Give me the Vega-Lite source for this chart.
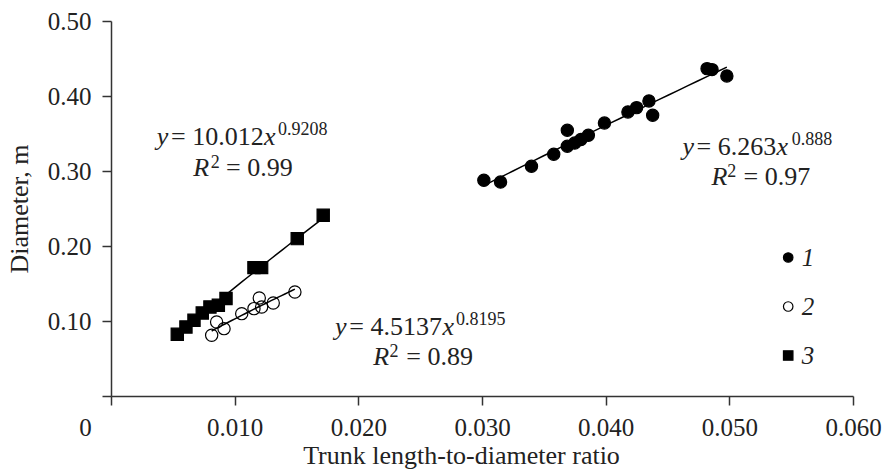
{
  "$schema": "https://vega.github.io/schema/vega-lite/v6.json",
  "width": 742,
  "height": 375,
  "autosize": {"type": "none"},
  "padding": {"left": 111, "top": 21, "right": 33, "bottom": 75},
  "background": "white",
  "config": {
    "view": {"stroke": null},
    "font": "Liberation Serif",
    "axis": {
      "grid": false,
      "domainColor": "#333",
      "tickColor": "#333",
      "labelColor": "#222",
      "titleColor": "#222",
      "domainWidth": 1.5,
      "tickWidth": 1.5,
      "tickSize": 9,
      "labelFont": "Liberation Serif",
      "titleFont": "Liberation Serif",
      "labelFontSize": 25,
      "titleFontSize": 26,
      "titleFontWeight": "normal",
      "labelFlush": false,
      "labelOverlap": false
    }
  },
  "datasets": {
    "pts": [
      {"r": 0.03015, "d": 0.2876, "s": "1"},
      {"r": 0.0315, "d": 0.2853, "s": "1"},
      {"r": 0.034, "d": 0.3063, "s": "1"},
      {"r": 0.0358, "d": 0.3223, "s": "1"},
      {"r": 0.0369, "d": 0.3543, "s": "1"},
      {"r": 0.0369, "d": 0.333, "s": "1"},
      {"r": 0.0375, "d": 0.3373, "s": "1"},
      {"r": 0.038, "d": 0.3419, "s": "1"},
      {"r": 0.0386, "d": 0.3476, "s": "1"},
      {"r": 0.0399, "d": 0.364, "s": "1"},
      {"r": 0.0418, "d": 0.3787, "s": "1"},
      {"r": 0.0425, "d": 0.3845, "s": "1"},
      {"r": 0.0435, "d": 0.3934, "s": "1"},
      {"r": 0.0438, "d": 0.3743, "s": "1"},
      {"r": 0.0482, "d": 0.4365, "s": "1"},
      {"r": 0.0486, "d": 0.4352, "s": "1"},
      {"r": 0.0498, "d": 0.4267, "s": "1"},
      {"r": 0.00814, "d": 0.081, "s": "2"},
      {"r": 0.00854, "d": 0.0987, "s": "2"},
      {"r": 0.00914, "d": 0.0898, "s": "2"},
      {"r": 0.01057, "d": 0.1098, "s": "2"},
      {"r": 0.01156, "d": 0.1165, "s": "2"},
      {"r": 0.01199, "d": 0.1307, "s": "2"},
      {"r": 0.01218, "d": 0.1187, "s": "2"},
      {"r": 0.01312, "d": 0.124, "s": "2"},
      {"r": 0.01487, "d": 0.1387, "s": "2"},
      {"r": 0.00536, "d": 0.0823, "s": "3"},
      {"r": 0.00606, "d": 0.092, "s": "3"},
      {"r": 0.00671, "d": 0.101, "s": "3"},
      {"r": 0.00738, "d": 0.1107, "s": "3"},
      {"r": 0.008, "d": 0.1187, "s": "3"},
      {"r": 0.00868, "d": 0.121, "s": "3"},
      {"r": 0.0093, "d": 0.13, "s": "3"},
      {"r": 0.01156, "d": 0.1712, "s": "3"},
      {"r": 0.01218, "d": 0.1712, "s": "3"},
      {"r": 0.01506, "d": 0.2098, "s": "3"},
      {"r": 0.01716, "d": 0.241, "s": "3"}
    ],
    "eqItalic": [
      {"r": 0.003694, "d": 0.3343, "t": "y"},
      {"r": 0.012369, "d": 0.3343, "t": "x"},
      {"r": 0.006653, "d": 0.2929, "t": "R"},
      {"r": 0.018108, "d": 0.0809, "t": "y"},
      {"r": 0.026799, "d": 0.0809, "t": "x"},
      {"r": 0.021205, "d": 0.0409, "t": "R"},
      {"r": 0.046217, "d": 0.3209, "t": "y"},
      {"r": 0.053816, "d": 0.3209, "t": "x"},
      {"r": 0.048561, "d": 0.2809, "t": "R"}
    ],
    "eqNormal": [
      {"r": 0.00485, "d": 0.3343, "t": "= 10.012"},
      {"r": 0.009297, "d": 0.2929, "t": "= 0.99"},
      {"r": 0.019264, "d": 0.0809, "t": "= 4.5137"},
      {"r": 0.023872, "d": 0.0409, "t": "= 0.89"},
      {"r": 0.047349, "d": 0.3209, "t": "= 6.263"},
      {"r": 0.051148, "d": 0.2809, "t": "= 0.97"}
    ],
    "eqSup": [
      {"r": 0.0135, "d": 0.3476, "t": "0.9208"},
      {"r": 0.00806, "d": 0.3036, "t": "2"},
      {"r": 0.02789, "d": 0.0943, "t": "0.8195"},
      {"r": 0.02253, "d": 0.0516, "t": "2"},
      {"r": 0.055053, "d": 0.3343, "t": "0.888"},
      {"r": 0.049822, "d": 0.2916, "t": "2"}
    ]
  },
  "encoding": {
    "x": {
      "field": "r",
      "type": "quantitative",
      "title": "Trunk length-to-diameter ratio",
      "scale": {"domain": [0, 0.06], "nice": false},
      "axis": {
        "values": [0, 0.01, 0.02, 0.03, 0.04, 0.05, 0.06],
        "labelExpr": "datum.value == 0 ? '0' : format(datum.value, '.3f')",
        "labelOffset": {"condition": {"test": "datum.value == 0", "value": -26}, "value": 0},
        "labelPadding": 10,
        "titlePadding": 2,
        "titleX": 350
      }
    },
    "y": {
      "field": "d",
      "type": "quantitative",
      "title": "Diameter, m",
      "scale": {"domain": [0, 0.5], "nice": false},
      "axis": {
        "values": [0, 0.1, 0.2, 0.3, 0.4, 0.5],
        "labelExpr": "datum.value == 0 ? '' : format(datum.value, '.2f')",
        "labelPadding": 11,
        "titlePadding": 15
      }
    }
  },
  "layer": [
    {
      "data": {"name": "pts"},
      "mark": {"type": "point", "size": 150, "strokeWidth": 1.2, "opacity": 1},
      "encoding": {
        "shape": {
          "field": "s",
          "type": "nominal",
          "scale": {"domain": ["1", "2", "3"], "range": ["circle", "circle", "square"]},
          "legend": {"orient": "none", "legendX": 664.7, "legendY": 224, "title": null, "direction": "vertical", "labelFontSize": 25, "labelFontStyle": "italic", "labelFont": "Liberation Serif", "labelColor": "#222", "symbolSize": 90, "symbolStrokeWidth": 1.2, "rowPadding": 23, "labelOffset": 1, "padding": 0}
        },
        "fill": {
          "field": "s",
          "type": "nominal",
          "scale": {"domain": ["1", "2", "3"], "range": ["black", "transparent", "black"]},
          "legend": {"orient": "none", "legendX": 664.7, "legendY": 224, "title": null, "direction": "vertical", "labelFontSize": 25, "labelFontStyle": "italic", "labelFont": "Liberation Serif", "labelColor": "#222", "symbolSize": 90, "symbolStrokeWidth": 1.2, "rowPadding": 23, "labelOffset": 1, "padding": 0}
        },
        "stroke": {
          "field": "s",
          "type": "nominal",
          "scale": {"domain": ["1", "2", "3"], "range": ["black", "black", "black"]},
          "legend": {"orient": "none", "legendX": 664.7, "legendY": 224, "title": null, "direction": "vertical", "labelFontSize": 25, "labelFontStyle": "italic", "labelFont": "Liberation Serif", "labelColor": "#222", "symbolSize": 90, "symbolStrokeWidth": 1.2, "rowPadding": 23, "labelOffset": 1, "padding": 0}
        }
      }
    },
    {
      "data": {"name": "pts"},
      "transform": [{"regression": "d", "on": "r", "groupby": ["s"], "method": "pow"}],
      "mark": {"type": "line", "color": "black", "strokeWidth": 1.5},
      "encoding": {"detail": {"field": "s", "type": "nominal"}}
    },
    {
      "data": {"name": "eqItalic"},
      "mark": {"type": "text", "align": "left", "baseline": "alphabetic", "font": "Liberation Serif", "fontStyle": "italic", "fontSize": 26, "color": "#222"},
      "encoding": {"text": {"field": "t", "type": "nominal"}}
    },
    {
      "data": {"name": "eqNormal"},
      "mark": {"type": "text", "align": "left", "baseline": "alphabetic", "font": "Liberation Serif", "fontSize": 26, "color": "#222"},
      "encoding": {"text": {"field": "t", "type": "nominal"}}
    },
    {
      "data": {"name": "eqSup"},
      "mark": {"type": "text", "align": "left", "baseline": "alphabetic", "font": "Liberation Serif", "fontSize": 18, "color": "#222"},
      "encoding": {"text": {"field": "t", "type": "nominal"}}
    }
  ]
}
